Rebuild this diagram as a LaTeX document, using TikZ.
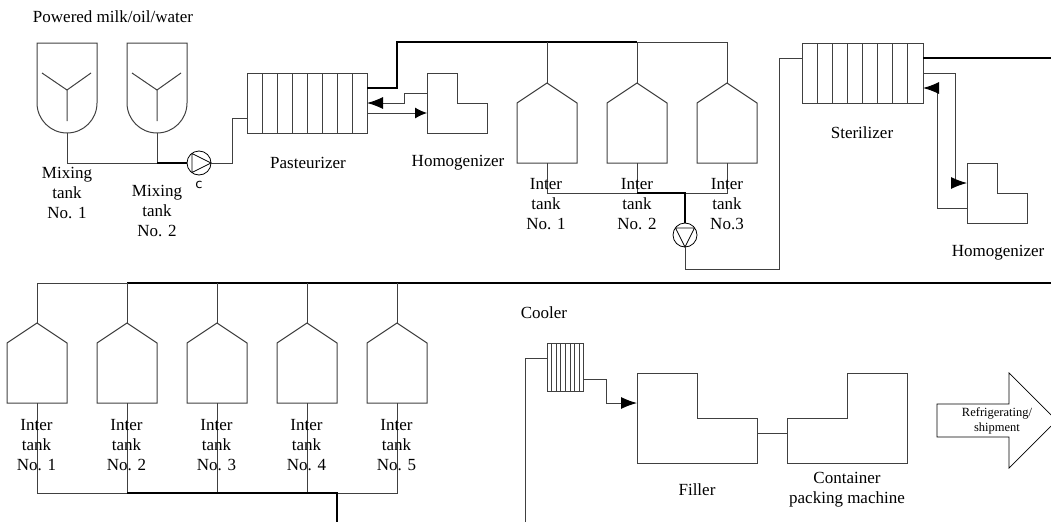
\documentclass[tikz,border=0pt]{standalone}
\usepackage{fontspec}
\setmainfont{Liberation Serif}
\newfontfamily\sansc{DejaVu Sans}
\usetikzlibrary{arrows.meta}
\definecolor{ln}{HTML}{404040}
\tikzset{
  x=1pt,y=-1pt,
  thin line/.style={draw=ln,line width=1pt,line join=miter},
  thick line/.style={draw=black,line width=1.9pt,line join=miter},
  mid line/.style={draw=black,line width=1.3pt},
  big head/.style={-{Latex[length=16pt,width=12pt,black]}},
  small head/.style={-{Latex[length=12pt,width=11pt,black]}},
  lab/.style={font=\fontsize{17}{20}\selectfont,align=center,inner sep=0pt},
  tinylab/.style={font=\fontsize{12.5}{15}\selectfont,align=center,inner sep=0pt},
  hx/.style={draw=ln,line width=1pt,inner sep=0pt,outer sep=0pt},
  pumpc/.style={circle,draw=black,line width=0.8pt,minimum size=24pt,inner sep=0pt,outer sep=0pt}
}
\newcommand{\mixtank}[2]{% name, centre x
  \draw[thin line] (#2-30,43) -- (#2+30,43) -- (#2+30,103) arc[start angle=0,end angle=180,radius=30pt,y radius=-30pt] -- cycle;
  \draw[thin line] (#2-25,73) -- (#2,90) -- (#2+24,73) (#2,90) -- (#2,121);
  \coordinate (#1) at (#2,133);
}
\newcommand{\intertank}[5]{% name, centre x, apex y, half width, (unused)
  \draw[thin line] (#2,#3) -- (#2+#4,#3+20) -- (#2+#4,#3+80) -- (#2-#4,#3+80) -- (#2-#4,#3+20) -- cycle;
  \coordinate (#1top) at (#2,#3);
  \coordinate (#1bot) at (#2,#3+80);
}
\newcommand{\exchanger}[6]{% name, left, top, cell, cells, height
  \node[hx,minimum width=#4*#5 pt,minimum height=#6 pt,anchor=north west] (#1) at (#2,#3) {};
  \foreach \k in {1,...,\numexpr#5-1\relax}
    \draw[thin line] (#2+\k*#4,#3) -- (#2+\k*#4,#3+#6);
}
\begin{document}
\begin{tikzpicture}
\useasboundingbox (0,0) rectangle (1051,522);

% ---- upper row equipment
\mixtank{mtA}{67}
\mixtank{mtB}{157}
\exchanger{past}{247}{73}{15}{8}{60}
\exchanger{ster}{802}{43}{15.125}{8}{60}
\exchanger{cool}{547}{343}{4.6}{8}{48}
\intertank{ua}{547}{83}{30}{}
\intertank{ub}{637}{83}{30}{}
\intertank{uc}{727}{83}{30}{}
\foreach \n/\x in {la/37,lb/127,lc/217,ld/307,le/397}
  \intertank{\n}{\x}{323}{30}{};

% ---- homogenizers, filler, packing
\draw[thin line] (427,73) -- (457,73) -- (457,103) -- (487,103) -- (487,133) -- (427,133) -- cycle;
\draw[thin line] (967,163) -- (997,163) -- (997,193) -- (1027,193) -- (1027,223) -- (967,223) -- cycle;
\draw[thin line] (637,373) -- (697,373) -- (697,418) -- (757,418) -- (757,463) -- (637,463) -- cycle;
\draw[thin line] (847,373) -- (907,373) -- (907,463) -- (787,463) -- (787,418) -- (847,418) -- cycle;
\draw[thin line,draw=black,line width=0.7pt] (1051,415) -- (1009,373) -- (1009,404) -- (937,404) -- (937,437) -- (1009,437) -- (1009,468) -- (1051,426);

% ---- pumps
\node[pumpc] (pumpA) at (199,163) {};
\node[pumpc] (pumpB) at (685,235) {};
\draw[draw=black,line width=0.8pt] (192,153.5) -- (211,163) -- (192,172.5) -- cycle;
\draw[draw=black,line width=0.8pt] (675.5,228) -- (694.5,228) -- (685,247) -- cycle;

% ---- named ports
\coordinate (busA1) at (67,163);
\coordinate (busA2) at (157,163);
\coordinate (pastIn) at (247,118);
\coordinate (pastInB) at (232,118);
\coordinate (pastInC) at (232,163);
\coordinate (pastOut) at (367,88);
\coordinate (upL) at (397,88);
\coordinate (upT) at (397,42);
\coordinate (topA) at (547,42);
\coordinate (topB) at (637,42);
\coordinate (topC) at (727,42);
\coordinate (hA1) at (427,93);
\coordinate (hA2) at (404,93);
\coordinate (hA3) at (404,103);
\coordinate (pastRet) at (367,103);
\coordinate (pastFw) at (367,113);
\coordinate (hAin) at (427,113);
\coordinate (busB1) at (547,193);
\coordinate (busB2) at (637,193);
\coordinate (busB3) at (685,193);
\coordinate (busB4) at (727,193);
\coordinate (pbO) at (685,269);
\coordinate (stL) at (779,269);
\coordinate (stT) at (779,58);
\coordinate (stIn) at (802,58);
\coordinate (stOut) at (923,58);
\coordinate (stEnd) at (1051,58);
\coordinate (stA) at (923,73);
\coordinate (stB) at (955,73);
\coordinate (stC) at (955,183);
\coordinate (hBin) at (967,183);
\coordinate (hBo) at (967,208);
\coordinate (stD) at (937,208);
\coordinate (stE) at (937,88);
\coordinate (stRet) at (923,88);
\coordinate (longL) at (1051,283);
\coordinate (ll1) at (37,283);
\coordinate (ll2) at (127,283);
\coordinate (ll3) at (217,283);
\coordinate (ll4) at (307,283);
\coordinate (ll5) at (397,283);
\coordinate (lb1) at (37,493);
\coordinate (lb2) at (127,493);
\coordinate (lb3) at (217,493);
\coordinate (lb4) at (307,493);
\coordinate (lb5) at (397,493);
\coordinate (lbJ) at (337,493);
\coordinate (lbEnd) at (337,522);
\coordinate (clA) at (525,522);
\coordinate (clB) at (525,358);
\coordinate (clIn) at (547,358);
\coordinate (clOut) at (583.8,379);
\coordinate (clC) at (606,379);
\coordinate (clD) at (606,403);
\coordinate (fIn) at (637,403);
\coordinate (fOut) at (757,433);
\coordinate (pkIn) at (787,433);

% ---- connectors
\draw[thin line] (mtA) -- (busA1) -- (busA2);
\draw[thin line] (mtB) -- (busA2);
\draw[mid line] (busA2) -- (pumpA.west);
\draw[thin line] (pumpA.east) -- (pastInC) -- (pastInB) -- (pastIn);
\draw[thick line] (pastOut) -- (upL) -- (upT) -- (topB);
\draw[thin line] (topB) -- (topC) -- (uctop);
\draw[thin line] (topA) -- (uatop);
\draw[thin line] (topB) -- (ubtop);
\draw[thin line,big head] (hA1) -- (hA2) -- (hA3) -- (pastRet);
\draw[thin line,small head] (pastFw) -- (hAin);
\draw[thin line] (uabot) -- (busB1) -- (busB2);
\draw[thin line] (ubbot) -- (busB2);
\draw[thin line] (ucbot) -- (busB4) -- (busB3);
\draw[mid line,line width=1.6pt] (busB2) -- (busB3) -- (pumpB.north);
\draw[thin line] (pumpB.south) -- (pbO) -- (stL) -- (stT) -- (stIn);
\draw[thick line] (stOut) -- (stEnd);
\draw[thin line,big head] (stA) -- (stB) -- (stC) -- (hBin);
\draw[thin line,big head] (hBo) -- (stD) -- (stE) -- (stRet);
\draw[thin line] (ll1) -- (ll2);
\draw[mid line] (ll2) -- (ll3);
\draw[thick line] (ll3) -- (longL);
\draw[thin line] (ll1) -- (latop);
\draw[thin line] (ll2) -- (lbtop);
\draw[thin line] (ll3) -- (lctop);
\draw[thin line] (ll4) -- (ldtop);
\draw[thin line] (ll5) -- (letop);
\draw[thin line] (labot) -- (lb1) -- (lb2);
\draw[thin line] (lbbot) -- (lb2);
\draw[thin line] (lcbot) -- (lb3);
\draw[thin line] (ldbot) -- (lb4);
\draw[thin line] (lebot) -- (lb5) -- (lbJ);
\draw[thick line] (lb2) -- (lbJ) -- (lbEnd);
\draw[thin line] (clA) -- (clB) -- (clIn);
\draw[thin line,big head] (clOut) -- (clC) -- (clD) -- (fIn);
\draw[thin line] (fOut) -- (pkIn);

% ---- labels
\node[lab] (t1) at (113,17) {Powered milk/oil/water};
\node[lab] (t2) at (67,192.5) {Mixing\\tank\\No. 1};
\node[lab] (t3) at (157,210.5) {Mixing\\tank\\No. 2};
\node[font=\sansc\fontsize{13}{14}\selectfont,inner sep=0pt] (t4) at (199,185) {c};
\node[lab] (t5) at (308,163) {Pasteurizer};
\node[lab] (t6) at (458,163) {Homogenizer};
\node[lab] (t7) at (546,204) {Inter\\tank\\No. 1};
\node[lab] (t8) at (637,204) {Inter\\tank\\No. 2};
\node[lab] (t9) at (727,204) {Inter\\tank\\No.3};
\node[lab] (t10) at (862,133) {Sterilizer};
\node[lab] (t11) at (998,253) {Homogenizer};
\foreach \x/\s [count=\i] in {37/1,127/2,217/3,307/4,397/5}
  \node[lab] (bt\i) at (\x-0.5,445) {Inter\\tank\\No. \s};
\node[lab] (t12) at (544,313) {Cooler};
\node[lab] (t13) at (697,490) {Filler};
\node[lab] (t14) at (847,490) {Container\\packing machine};
\node[tinylab] (t15) at (997,420.5) {Refrigerating/\\shipment};
\end{tikzpicture}
\end{document}
